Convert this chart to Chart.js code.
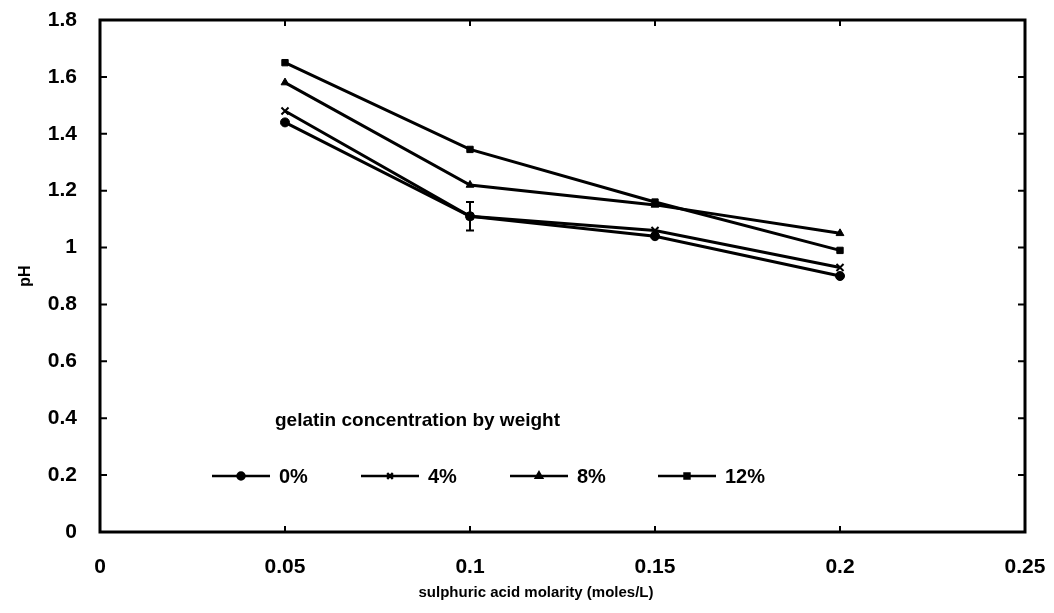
<!DOCTYPE html>
<html>
<head>
<meta charset="utf-8">
<script src="https://cdn.jsdelivr.net/npm/chart.js@4.4.1/dist/chart.umd.min.js"></script>
<style>
  html, body { margin: 0; padding: 0; background: #fff; }
  #wrap { width: 1054px; height: 613px; }
</style>
</head>
<body>
<div id="wrap"><canvas id="c" width="1054" height="613"></canvas></div>
<script>
// Sulphuric acid molarity (moles/L) on the x axis
const molarity = [0.05, 0.1, 0.15, 0.2];

// pH readings per gelatin concentration
const ph0  = [1.44, 1.11, 1.04, 0.90];
const ph4  = [1.48, 1.11, 1.06, 0.93];
const ph8  = [1.58, 1.22, 1.15, 1.05];
const ph12 = [1.65, 1.345, 1.16, 0.99];

// Error bar half-width on the 4% series (only measured at 0.1 M)
const err4 = [null, 0.05, null, null];

const seriesLabels = ['0%', '4%', '8%', '12%'];
const seriesStyles = ['circle', 'crossRot', 'triangle', 'rect'];

const xTickLabels = ['0', '0.05', '0.1', '0.15', '0.2', '0.25'];
const yTickLabels = ['0', '0.2', '0.4', '0.6', '0.8', '1', '1.2', '1.4', '1.6', '1.8'];

const legendTitle = 'gelatin concentration by weight';
const xTitle = 'sulphuric acid molarity (moles/L)';
const yTitle = 'pH';

const FONT = '"Liberation Sans", Arial, sans-serif';

function pts(ys) { return molarity.map((x, i) => ({ x: x, y: ys[i] })); }

const allSeries = [ph0, ph4, ph8, ph12];
const datasets = allSeries.map((ys, i) => ({
  label: seriesLabels[i],
  data: pts(ys),
  borderColor: '#000',
  backgroundColor: '#000',
  borderWidth: 3,
  pointStyle: seriesStyles[i],
  pointRadius: seriesStyles[i] === 'crossRot' ? 5 : 4.5,
  pointBorderWidth: seriesStyles[i] === 'crossRot' ? 2 : 1,
  tension: 0
}));

// Frame, inward ticks, error bars, x-axis title and the in-plot legend
const decorations = {
  id: 'decorations',
  afterDatasetsDraw(chart) {
    const ctx = chart.ctx;
    const a = chart.chartArea;
    const xs = chart.scales.x, ys = chart.scales.y;
    ctx.save();
    ctx.strokeStyle = '#000';
    ctx.fillStyle = '#000';

    // frame
    ctx.lineWidth = 3;
    ctx.strokeRect(a.left, a.top, a.right - a.left, a.bottom - a.top);

    // inward tick marks on all four sides
    ctx.lineWidth = 2;
    ctx.beginPath();
    ys.ticks.forEach(t => {
      const py = ys.getPixelForValue(t.value);
      ctx.moveTo(a.left, py); ctx.lineTo(a.left + 7, py);
      ctx.moveTo(a.right, py); ctx.lineTo(a.right - 7, py);
    });
    xs.ticks.forEach(t => {
      const px = xs.getPixelForValue(t.value);
      ctx.moveTo(px, a.bottom); ctx.lineTo(px, a.bottom - 6);
      ctx.moveTo(px, a.top); ctx.lineTo(px, a.top + 6);
    });
    ctx.stroke();

    // error bars
    ctx.lineWidth = 2;
    err4.forEach((e, i) => {
      if (e == null) return;
      const px = xs.getPixelForValue(molarity[i]);
      const hi = ys.getPixelForValue(ph4[i] + e);
      const lo = ys.getPixelForValue(ph4[i] - e);
      ctx.beginPath();
      ctx.moveTo(px, hi); ctx.lineTo(px, lo);
      ctx.moveTo(px - 4, hi); ctx.lineTo(px + 4, hi);
      ctx.moveTo(px - 4, lo); ctx.lineTo(px + 4, lo);
      ctx.stroke();
    });

    // x-axis title
    ctx.font = 'bold 15px ' + FONT;
    ctx.textBaseline = 'middle';
    ctx.textAlign = 'center';
    ctx.fillText(xTitle, 536, 593);

    // legend
    ctx.font = 'bold 19px ' + FONT;
    ctx.textAlign = 'left';
    ctx.fillText(legendTitle, 275, 421);

    const entryX = [212, 361, 510, 658];
    const rowY = 476;
    const lineLen = 58;
    ctx.font = 'bold 20px ' + FONT;
    chart.data.datasets.forEach((ds, i) => {
      const x0 = entryX[i];
      ctx.lineWidth = 2.5;
      ctx.beginPath();
      ctx.moveTo(x0, rowY); ctx.lineTo(x0 + lineLen, rowY);
      ctx.stroke();
      Chart.helpers.drawPoint(ctx, {
        pointStyle: ds.pointStyle,
        radius: ds.pointStyle === 'crossRot' ? 4 : 3.5,
        borderWidth: ds.pointStyle === 'crossRot' ? 1.5 : 1,
        rotation: 0
      }, x0 + lineLen / 2, rowY);
      ctx.fill();
      ctx.fillText(ds.label, x0 + lineLen + 9, rowY + 1);
    });
    ctx.restore();
  }
};

new Chart(document.getElementById('c'), {
  type: 'line',
  data: { datasets: datasets },
  options: {
    responsive: false,
    animation: false,
    layout: { padding: { left: 0, top: 20, right: 29, bottom: 0 } },
    plugins: { legend: { display: false }, tooltip: { enabled: false } },
    scales: {
      x: {
        type: 'linear',
        min: 0, max: 0.25,
        grid: { display: false, drawTicks: false },
        border: { display: false },
        ticks: {
          stepSize: 0.05,
          padding: 23,
          color: '#000',
          font: { family: FONT, size: 21, weight: 'bold' },
          maxRotation: 0,
          callback: (v, i) => xTickLabels[i]
        },
        afterFit(scale) {
          scale.height = 81;
          scale.paddingLeft = 0;
          scale.paddingRight = 0;
        }
      },
      y: {
        min: 0, max: 1.8,
        grid: { display: false, drawTicks: false },
        border: { display: false },
        ticks: {
          stepSize: 0.2,
          padding: 23,
          color: '#000',
          font: { family: FONT, size: 21, weight: 'bold' },
          callback: (v, i) => yTickLabels[i]
        },
        title: {
          display: true,
          text: yTitle,
          color: '#000',
          padding: { top: 16, bottom: 0 },
          font: { family: FONT, size: 16, weight: 'bold' }
        },
        afterFit(scale) {
          scale.width = 100;
          scale.paddingTop = 0;
          scale.paddingBottom = 0;
        }
      }
    }
  },
  plugins: [decorations]
});
</script>
</body>
</html>
